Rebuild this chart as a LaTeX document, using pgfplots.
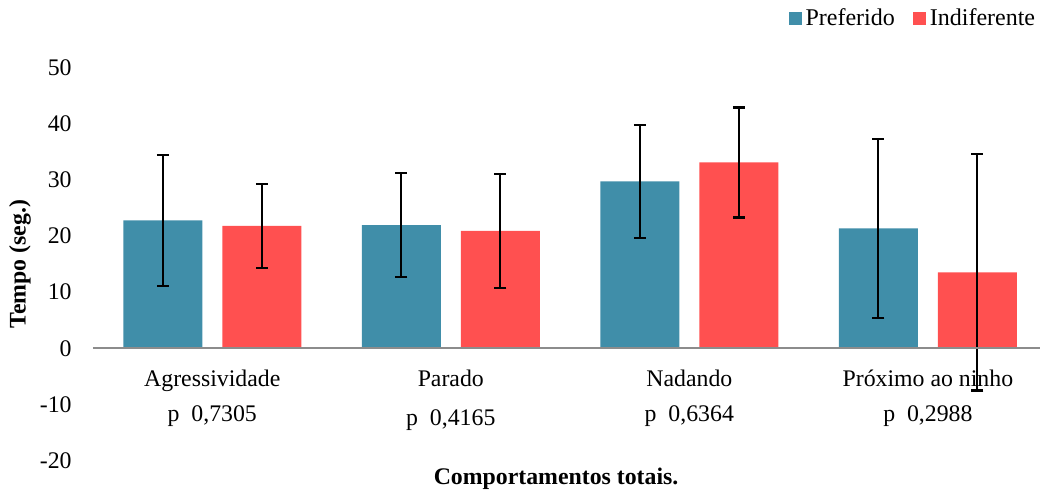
\documentclass[border=0pt]{standalone}
\usepackage{pgfplots}
\pgfplotsset{compat=1.18}
\usepackage{fontspec}
\setmainfont{Liberation Serif}

\definecolor{prefblue}{HTML}{408EA9}
\definecolor{indred}{HTML}{FF5050}
\definecolor{zeroline}{HTML}{8C8C8C}

\begin{document}
\begin{tikzpicture}
\begin{axis}[
  scale only axis,
  width=473.5pt, height=196.5pt,
  ybar, bar width=39.5pt,
  xmin=-0.5, xmax=3.47,
  ymin=-20, ymax=50,
  axis line style={draw=none},
  major tick length=0pt,
  xtick={0,1,2,3},
  xticklabels={{Agressividade\\p\ \ 0,7305},{Parado\\[2pt]p\ \ 0,4165},{Nadando\\p\ \ 0,6364},{Próximo ao ninho\\p\ \ 0,2988}},
  xticklabel style={align=center, inner sep=0pt, anchor=north, yshift=45.6pt,
    font=\fontsize{11.9}{17.5}\selectfont},
  ytick={-20,-10,0,10,20,30,40,50},
  yticklabels={-20,-10,0,10,20,30,40,50},
  yticklabel style={inner sep=0pt, anchor=east, xshift=-10.5pt, font=\fontsize{11.9}{14}\selectfont},
  ylabel={Tempo (seg.)},
  ylabel style={at={(axis description cs:-0.0771,0.5)}, anchor=center, font=\fontsize{11.9}{14}\selectfont\bfseries},
  xlabel={Comportamentos totais.},
  xlabel style={at={(axis description cs:0.489,-0.047)}, anchor=center, font=\fontsize{11.9}{14}\selectfont\bfseries},
  legend columns=2,
  legend style={draw=none, fill=none, at={(axis description cs:0.9995,1.124)}, anchor=east,
    font=\fontsize{12}{14}\selectfont, inner sep=0pt,
    /tikz/every even column/.append style={column sep=7pt}},
  legend image code/.code={\fill[#1] (0pt,-3.25pt) rectangle (6.5pt,3.25pt);},
  legend cell align=left,
  error bars/error bar style={black, line width=1.1pt},
  error bars/error mark options={black, rotate=90, mark size=3pt, line width=1.1pt},
]
\addplot[fill=prefblue, draw=none, bar shift=-24.75pt,
  error bars/.cd, y dir=both, y explicit]
  coordinates {(0,22.8) +- (0,11.7) (1,21.95) +- (0,9.25) (2,29.75) +- (0,10.05) (3,21.35) +- (0,15.95)};
\addlegendentry{Preferido}
\addplot[fill=indred, draw=none, bar shift=24.75pt,
  error bars/.cd, y dir=both, y explicit]
  coordinates {(0,21.8) +- (0,7.5) (1,20.9) +- (0,10.1) (2,33.1) +- (0,9.8) (3,13.55) +- (0,21.05)};
\addlegendentry{Indiferente}
% zero baseline across the full width
\draw[zeroline, line width=1.1pt] (axis cs:-0.5,0) -- (axis cs:3.47,0);
\end{axis}
\pgfresetboundingbox
\useasboundingbox (-46.5pt,-14.2pt) rectangle (473.5pt,230.3pt);
\end{tikzpicture}
\end{document}
